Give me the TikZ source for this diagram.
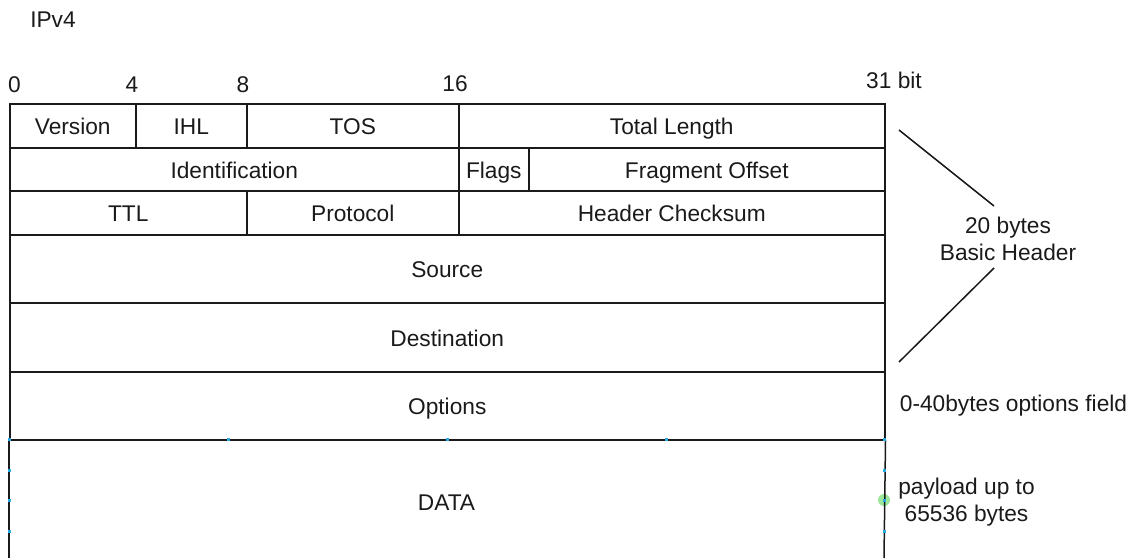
\documentclass[tikz,border=0pt]{standalone}
\usepackage{fontspec}
\setmainfont{Liberation Sans}
\definecolor{rule}{HTML}{1A1A1A}
\definecolor{handle}{HTML}{29A9E1}
\definecolor{pingreen}{HTML}{9BE89B}
\begin{document}
\begin{tikzpicture}[x=1pt,y=-1pt,
  every node/.style={font=\fontsize{22.7}{26.5}\selectfont, text=rule},
  cell/.style={draw=rule, line width=1.5pt, rectangle, inner sep=0pt, anchor=north west,
    text height=20pt, text depth=2pt},
  bitlabel/.style={inner sep=0pt},
  note/.style={inner sep=0pt, align=center},
  brace/.style={draw=rule, line width=1.5pt},
  frame/.style={draw=rule, line width=1.5pt},
  tick/.style={fill=handle, draw=none, minimum width=3pt, minimum height=3pt, inner sep=0pt}]
\useasboundingbox (0,0) rectangle (1131,558);

% title and bit positions
\node[bitlabel] (title) at (53,20) {IPv4};
\node[bitlabel] (b0) at (14.5,85) {0};
\node[bitlabel] (b4) at (132,85) {4};
\node[bitlabel] (b8) at (243,85) {8};
\node[bitlabel] (b16) at (455,84) {16};
\node[bitlabel] (b31) at (894,80.5) {31 bit};

% connection pin on the data area's right edge (under the frame)
\fill[pingreen] (884,500) circle (6pt);

% row 1
\node[cell, minimum width=126pt, minimum height=44pt] (version) at (9,103) {Version};
\node[cell, minimum width=111pt, minimum height=44pt] (ihl) at (135,103) {IHL};
\node[cell, minimum width=212pt, minimum height=44pt] (tos) at (246,103) {TOS};
\node[cell, minimum width=426pt, minimum height=44pt] (totlen) at (458,103) {Total Length};
% row 2
\node[cell, minimum width=449pt, minimum height=43pt] (ident) at (9,147) {Identification};
\node[cell, minimum width=70pt, minimum height=43pt] (flags) at (458,147) {Flags};
\node[cell, minimum width=356pt, minimum height=43pt] (fragoff) at (528,147) {Fragment Offset};
% row 3
\node[cell, minimum width=237pt, minimum height=44pt] (ttl) at (9,190) {TTL};
\node[cell, minimum width=212pt, minimum height=44pt] (proto) at (246,190) {Protocol};
\node[cell, minimum width=426pt, minimum height=44pt] (cksum) at (458,190) {Header Checksum};
% rows 4-6
\node[cell, minimum width=875pt, minimum height=68pt] (source) at (9,234) {Source};
\node[cell, minimum width=875pt, minimum height=69pt] (dest) at (9,302) {Destination};
\node[cell, minimum width=875pt, minimum height=68pt] (options) at (9,371) {Options};

% data area, open at the bottom
\coordinate (dl) at (9,558);
\coordinate (dr) at (884,558);
\node[inner sep=0pt, text height=20pt, text depth=2pt] (data) at (446.5,501) {DATA};
\draw[frame] (options.south west) -- (dl);
\draw[frame] (options.south east) -- (dr);

% editor handles along the data area
\foreach \y in {439,470,500,531} {
  \node[tick] at (9,\y) {};
  \node[tick] at (884,\y) {};
}
\foreach \x in {228,447,666} {
  \node[tick] at (\x,439) {};
}

% side notes
\node[note] (basic) at (1008,239) {20 bytes\\Basic Header};
\coordinate (t1) at (899,130);
\coordinate (t2) at (994,206);
\coordinate (u1) at (994,268);
\coordinate (u2) at (899,362);
\draw[brace] (t1) -- (t2);
\draw[brace] (u1) -- (u2);
\node[note] (optnote) at (1013.5,406) {0-40bytes options field};
\node[note] (paynote) at (966.5,502) {payload up to\\65536 bytes};
\end{tikzpicture}
\end{document}
